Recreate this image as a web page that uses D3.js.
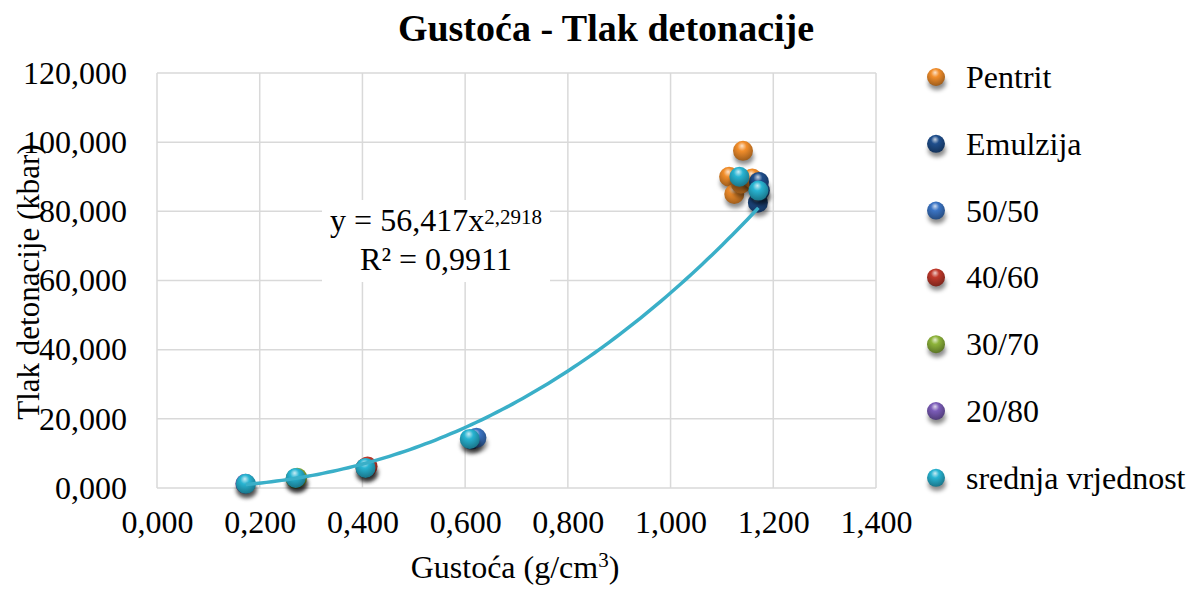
<!doctype html>
<html>
<head>
<meta charset="utf-8">
<script src="https://d3js.org/d3.v7.min.js"></script>
<style>
  body { margin: 0; background: #fff; }
  text { font-family: "Liberation Serif", "Times New Roman", serif; fill: #000; }
</style>
</head>
<body>
<svg width="1198" height="590"></svg>
<script>
// series data (Gustoća g/cm3, Tlak detonacije kbar)
var seriesNames = ["Pentrit", "Emulzija", "50/50", "40/60", "30/70", "20/80", "srednja vrjednost"];
var pentritX = [1.114, 1.124, 1.137, 1.141, 1.159];
var pentritY = [90.0, 85.0, 88.0, 97.5, 89.5];
var emulzijaX = [1.170, 1.172, 1.174];
var emulzijaY = [82.5, 88.5, 86.0];
var mix5050X = [0.612, 0.622];
var mix5050Y = [14.0, 14.5];
var mix4060X = [0.406, 0.410];
var mix4060Y = [5.8, 6.2];
var mix3070X = [0.270, 0.273];
var mix3070Y = [2.7, 3.0];
var mix2080X = [0.172];
var mix2080Y = [1.2];
var srednjaX = [0.173, 0.270, 0.406, 0.609, 1.134, 1.171];
var srednjaY = [1.2, 2.9, 5.8, 14.2, 90.0, 86.0];
var xTicks = [0, 0.2, 0.4, 0.6, 0.8, 1.0, 1.2, 1.4];
var yTicks = [0, 20, 40, 60, 80, 100, 120];
// power trendline of the mean series
var trendA = 56.417, trendB = 2.2918;

var colors = ["#f28e2b", "#1f4e8c", "#3b74c4", "#c0392b", "#8db33a", "#7b5cb8", "#28b4d2"];
var seriesX = [pentritX, emulzijaX, mix5050X, mix4060X, mix3070X, mix2080X, srednjaX];
var seriesY = [pentritY, emulzijaY, mix5050Y, mix4060Y, mix3070Y, mix2080Y, srednjaY];

var svg = d3.select("svg");
var plotL = 157, plotR = 876, plotT = 73, plotB = 488;

var x = d3.scaleLinear().domain([0, 1.4]).range([plotL, plotR]);
var y = d3.scaleLinear().domain([0, 120]).range([plotB, plotT]);
var fmt = function (v) { return d3.format(".3f")(v).replace(".", ","); };

// gradients for the 3d balls
var defs = svg.append("defs");
colors.forEach(function (c, i) {
  var g = defs.append("radialGradient").attr("id", "ball" + i)
    .attr("cx", "45%").attr("cy", "35%").attr("r", "65%").attr("fx", "45%").attr("fy", "25%");
  g.append("stop").attr("offset", "0%").attr("stop-color", d3.interpolateRgb(c, "#fff")(0.75));
  g.append("stop").attr("offset", "35%").attr("stop-color", c);
  g.append("stop").attr("offset", "100%").attr("stop-color", d3.color(c).darker(1.2));
});
var sh = defs.append("filter").attr("id", "shadow").attr("x", "-50%").attr("y", "-50%").attr("width", "200%").attr("height", "200%");
sh.append("feGaussianBlur").attr("stdDeviation", 2);

// grid
svg.append("g").selectAll("line").data(yTicks).join("line")
  .attr("x1", plotL).attr("x2", plotR)
  .attr("y1", function (d) { return y(d); }).attr("y2", function (d) { return y(d); })
  .attr("stroke", "#d9d9d9").attr("stroke-width", 1.5);
svg.append("g").selectAll("line").data(xTicks).join("line")
  .attr("y1", plotT).attr("y2", plotB)
  .attr("x1", function (d) { return x(d); }).attr("x2", function (d) { return x(d); })
  .attr("stroke", "#d9d9d9").attr("stroke-width", 1.5);

// axes
var yAxis = svg.append("g").attr("transform", "translate(" + plotL + ",0)")
  .call(d3.axisLeft(y).tickValues(yTicks).tickFormat(fmt).tickSize(0).tickPadding(30));
var xAxis = svg.append("g").attr("transform", "translate(0," + plotB + ")")
  .call(d3.axisBottom(x).tickValues(xTicks).tickFormat(fmt).tickSize(0).tickPadding(22));
[xAxis, yAxis].forEach(function (a) {
  a.select(".domain").remove();
  a.selectAll("text").style("font-family", "Liberation Serif").style("font-size", "32px").attr("fill", "#000");
});

// markers
function ball(g, cx, cy, i, r) {
  g.append("ellipse").attr("cx", cx + 1).attr("cy", cy + 6).attr("rx", r).attr("ry", r * 0.8)
    .attr("fill", "rgba(0,0,0,0.45)").attr("filter", "url(#shadow)");
  g.append("circle").attr("cx", cx).attr("cy", cy).attr("r", r).attr("fill", "url(#ball" + i + ")");
}
var marks = svg.append("g");
seriesX.forEach(function (xs, i) {
  xs.forEach(function (v, j) { ball(marks, x(v), y(seriesY[i][j]), i, 10); });
});

// trendline
var lo = d3.min(srednjaX), hi = d3.max(srednjaX);
var tx = d3.range(0, 101).map(function (k) { return lo + (hi - lo) * k / 100; });
svg.append("path").datum(tx)
  .attr("d", d3.line().x(function (d) { return x(d); }).y(function (d) { return y(trendA * Math.pow(d, trendB)); }))
  .attr("fill", "none").attr("stroke", "#3aafc8").attr("stroke-width", 3.5);

// equation label
svg.append("rect").attr("x", 322).attr("y", 200).attr("width", 228).attr("height", 82).attr("fill", "#fff");
var eq = svg.append("text").attr("x", 436).attr("y", 231).attr("text-anchor", "middle").style("font-size", "32px");
eq.append("tspan").text("y = 56,417x");
eq.append("tspan").attr("dy", -7).style("font-size", "21px").text("2,2918");
svg.append("text").attr("x", 436).attr("y", 270).attr("text-anchor", "middle").style("font-size", "32px").text("R² = 0,9911");

// titles
svg.append("text").attr("x", 606).attr("y", 41).attr("text-anchor", "middle")
  .style("font-size", "38px").style("font-weight", "bold").text("Gustoća - Tlak detonacije");
var xt = svg.append("text").attr("x", 515).attr("y", 578).attr("text-anchor", "middle").style("font-size", "32px");
xt.append("tspan").text("Gustoća (g/cm");
xt.append("tspan").attr("dy", -11).style("font-size", "21px").text("3");
xt.append("tspan").attr("dy", 11).text(")");
svg.append("text").attr("transform", "translate(39,282) rotate(-90)").attr("text-anchor", "middle")
  .style("font-size", "31px").text("Tlak detonacije (kbar)");

// legend
var leg = svg.append("g");
seriesNames.forEach(function (n, i) {
  var ly = 77 + i * 66.8;
  ball(leg, 936, ly, i, 9);
  leg.append("text").attr("x", 966).attr("y", ly + 11).style("font-size", "32px").text(n);
});
</script>
</body>
</html>
